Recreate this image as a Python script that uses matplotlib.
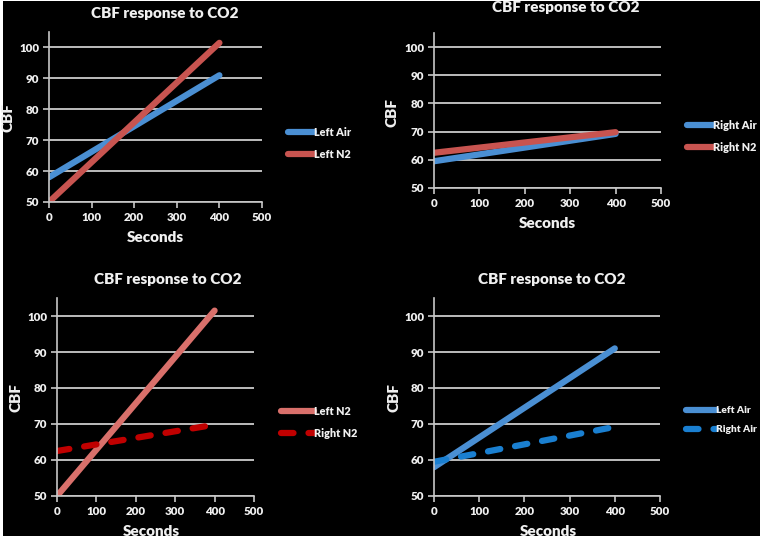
import matplotlib
matplotlib.use("Agg")
import matplotlib.pyplot as plt
from matplotlib.patches import Rectangle

plt.rcParams['font.family'] = ['Lato', 'DejaVu Sans']
plt.rcParams['font.weight'] = 'bold'

# ---- data ----
seconds = [0, 400]
left_air = [58, 91]
left_n2 = [50, 101.5]
right_air = [59.5, 69.2]
right_n2 = [62.5, 69.8]

title = "CBF response to CO2"
xlabel = "Seconds"
ylabel = "CBF"
xticks = [0, 100, 200, 300, 400, 500]
yticks = [50, 60, 70, 80, 90, 100]

W, H = 764, 540
fig = plt.figure(figsize=(W / 100, H / 100), dpi=100, facecolor='white')
fig.patches.append(Rectangle((3 / W, (H - 536) / H), (760 - 3) / W, (536 - 1) / H,
                             transform=fig.transFigure, facecolor='black',
                             edgecolor='none', zorder=-10))

FG = '#f0f0f0'
GRID = '#dcdcdc'

def px_ax(x0, x1, ytop, ybot):
    return fig.add_axes([x0 / W, (H - ybot) / H, (x1 - x0) / W, (ybot - ytop) / H])

def style(ax):
    ax.set_facecolor('none')
    ax.set_xlim(0, 500)
    ax.set_ylim(50, 105)
    ax.set_xticks(xticks)
    ax.set_yticks(yticks)
    ax.set_xticklabels([str(t) for t in xticks])
    ax.set_yticklabels([str(t) for t in yticks])
    for s in ['top', 'right']:
        ax.spines[s].set_visible(False)
    for s in ['left', 'bottom']:
        ax.spines[s].set_color('#c8c8c8')
        ax.spines[s].set_linewidth(1.2)
    ax.tick_params(colors='#c8c8c8', labelcolor=FG, labelsize=8.3, length=4, width=1.2,
                   direction='out', pad=3)
    for lab in ax.get_xticklabels() + ax.get_yticklabels():
        lab.set_fontweight('heavy')
    ax.yaxis.grid(True, color=GRID, linewidth=1.2)
    ax.set_axisbelow(True)

def texts(tx, ty, sx, sy, cx, cy):
    fig.text(tx / W, 1 - ty / H, title, color=FG, fontsize=11, fontweight='heavy',
             ha='center', va='center')
    fig.text(sx / W, 1 - sy / H, xlabel, color=FG, fontsize=11, fontweight='heavy',
             ha='center', va='center')
    fig.text(cx / W, 1 - cy / H, ylabel, color=FG, fontsize=11, fontweight='heavy',
             ha='center', va='center', rotation=90)

def legend(ax, lx, ly, hl, fs=7.8):
    leg = ax.legend(loc='upper left', bbox_to_anchor=(lx / W, 1 - ly / H),
                    bbox_transform=fig.transFigure, frameon=False, fontsize=fs,
                    handlelength=hl, handletextpad=0.0, labelspacing=1.0,
                    borderpad=0, borderaxespad=0)
    for t in leg.get_texts():
        t.set_color(FG)
        t.set_fontweight('heavy')

LW = 4.5
BLUE = '#4a8fd3'
RED = '#c85450'
DASH = (2.0, 2.4)

# Panel 1
ax1 = px_ax(49, 262, 32, 202)
style(ax1)
ax1.plot(seconds, left_air, color=BLUE, lw=LW, solid_capstyle='round', label='Left Air')
ax1.plot(seconds, left_n2, color=RED, lw=LW, solid_capstyle='round', label='Left N2')
texts(165, 13, 155, 238, 8, 118)
legend(ax1, 288, 127, 2.4)

# Panel 2
ax2 = px_ax(434, 661, 33, 188)
style(ax2)
ax2.plot(seconds, right_air, color=BLUE, lw=LW, solid_capstyle='round', label='Right Air')
ax2.plot(seconds, right_n2, color=RED, lw=LW, solid_capstyle='round', label='Right N2')
texts(566, 8, 547, 224, 392, 113)
legend(ax2, 687, 120, 2.4)

# Panel 3
ax3 = px_ax(57, 254, 298, 496)
style(ax3)
ax3.plot(seconds, left_n2, color='#d9706b', lw=LW, solid_capstyle='round', label='Left N2')
ax3.plot(seconds, right_n2, color='#c00000', lw=LW, dash_capstyle='round',
         dashes=DASH, label='Right N2')
texts(168, 279, 151, 532, 16, 398)
legend(ax3, 281, 406, 3.0)

# Panel 4
ax4 = px_ax(434, 660, 298, 496)
style(ax4)
ax4.plot(seconds, left_air, color=BLUE, lw=LW, solid_capstyle='round', label='Left Air')
ax4.plot(seconds, right_air, color='#1a7fd0', lw=LW, dash_capstyle='round',
         dashes=DASH, label='Right Air')
texts(552, 279, 548, 532, 394, 398)
legend(ax4, 686, 406, 3.0, fs=7.3)

fig.savefig('out.png', dpi=100, facecolor='white')
